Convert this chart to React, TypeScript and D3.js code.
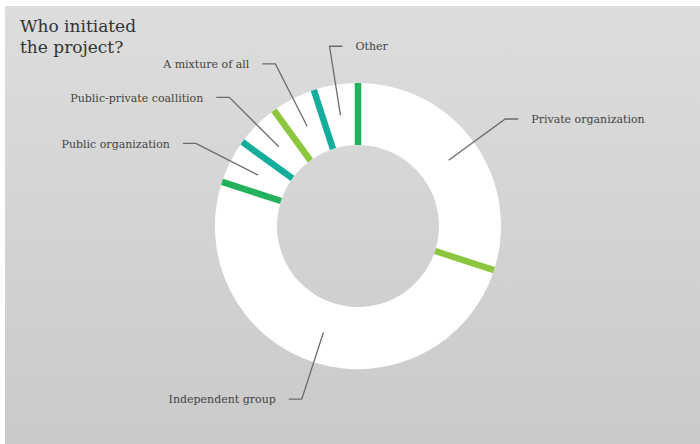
import React from "react";
import * as d3 from "d3";

const categories = [
  "Private organization",
  "Independent group",
  "Public organization",
  "Public-private coallition",
  "A mixture of all",
  "Other",
];
const values = [30, 50, 5, 5, 5, 5];
const separatorColors = ["#22b25c", "#8cc63f", "#22b25c", "#14ad9c", "#8cc63f", "#14ad9c"];
const titleLines = ["Who initiated", "the project?"];

const W = 700;
const H = 444;
const cx = 358;
const cy = 226;
const rOuter = 143;
const rInner = 81;
const rLabel = 182;

export default function App() {
  const data = categories.map((c, i) => ({ name: c, value: values[i], color: separatorColors[i] }));
  const pie = d3.pie<any>().value((d: any) => d.value).sort(null);
  const arcs = pie(data);
  const arcGen = d3.arc<any>().innerRadius(rInner).outerRadius(rOuter);
  const midArc = d3.arc<any>().innerRadius(112).outerRadius(112);
  const labelArc = d3.arc<any>().innerRadius(rLabel).outerRadius(rLabel);

  return (
    <svg
      width={W}
      height={H}
      style={{ position: "absolute", left: 0, top: 0 }}
      fontFamily="'DejaVu Serif', serif"
    >
      <defs>
        <linearGradient id="bg" x1="0" y1="0" x2="0" y2="1">
          <stop offset="0%" stopColor="#dcdddc" />
          <stop offset="100%" stopColor="#c9cac9" />
        </linearGradient>
      </defs>
      <rect x={0} y={0} width={W} height={H} fill="#ffffff" />
      <rect x={5} y={6} width={W - 5} height={H - 6} fill="url(#bg)" />
      {titleLines.map((t, i) => (
        <text key={t} x={20} y={32 + i * 21} fontSize={17} fill="#333">
          {t}
        </text>
      ))}
      <g transform={`translate(${cx},${cy})`}>
        {arcs.map((a, i) => (
          <path key={"s" + i} d={arcGen(a) as string} fill="#ffffff" />
        ))}
        {arcs.map((a, i) => {
          const ang = a.startAngle;
          const x1 = Math.sin(ang) * rInner;
          const y1 = -Math.cos(ang) * rInner;
          const x2 = Math.sin(ang) * rOuter;
          const y2 = -Math.cos(ang) * rOuter;
          return (
            <line key={"l" + i} x1={x1} y1={y1} x2={x2} y2={y2} stroke={a.data.color} strokeWidth={6.5} />
          );
        })}
        {arcs.map((a, i) => {
          const [mx, my] = midArc.centroid(a);
          const [ex, ey] = labelArc.centroid(a);
          const mid = (a.startAngle + a.endAngle) / 2;
          const right = mid < Math.PI || mid > 1.9 * Math.PI;
          const dir = right ? 1 : -1;
          const hx = ex + dir * 13;
          const tx = ex + dir * 26;
          return (
            <g key={"t" + i}>
              <polyline
                points={`${mx},${my} ${ex},${ey} ${hx},${ey}`}
                fill="none"
                stroke="#6b6b6b"
                strokeWidth={1.3}
              />
              <text
                x={tx}
                y={ey}
                dy="0.38em"
                fontSize={11}
                fill="#444"
                textAnchor={right ? "start" : "end"}
              >
                {a.data.name}
              </text>
            </g>
          );
        })}
      </g>
    </svg>
  );
}
